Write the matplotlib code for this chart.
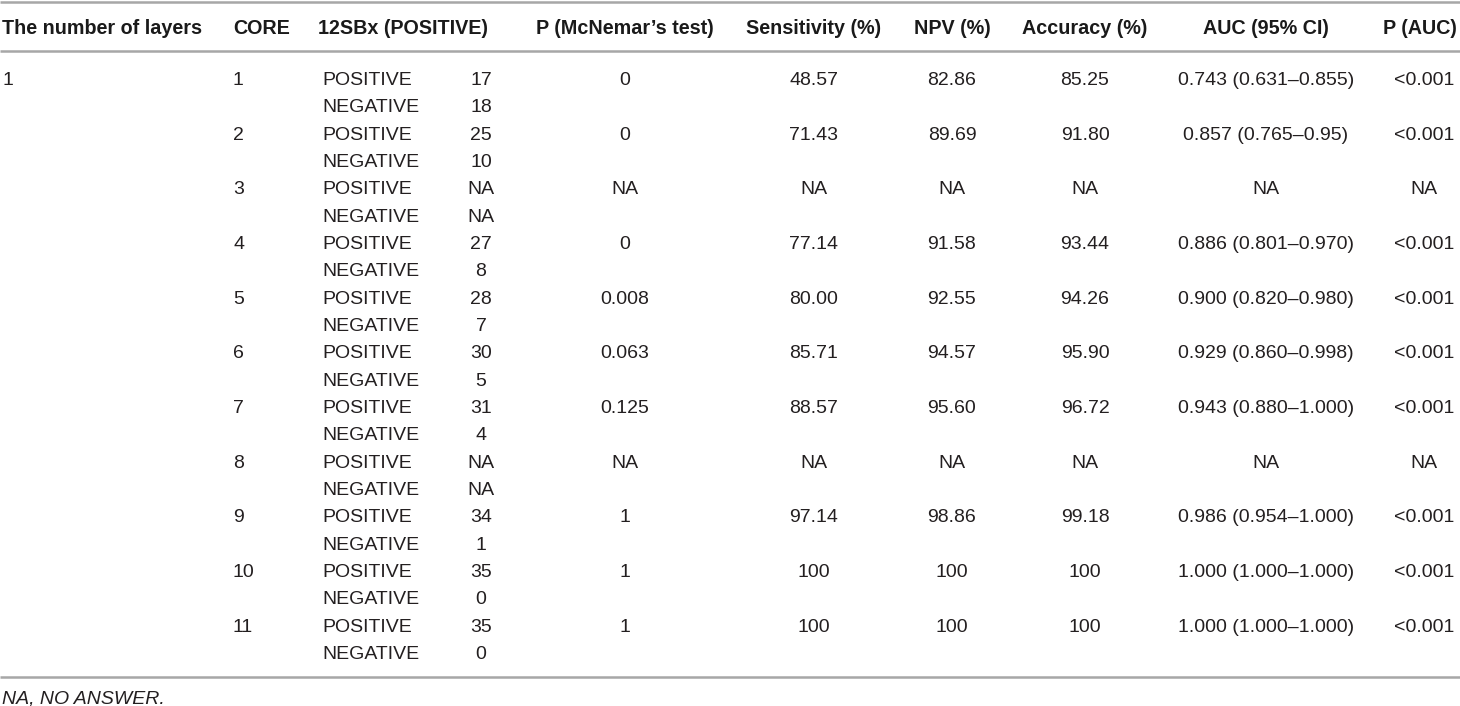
import matplotlib
matplotlib.use("Agg")
import matplotlib.pyplot as plt

# ---------------- data ----------------
headers = ["The number of layers", "CORE", "12SBx (POSITIVE)", "P (McNemar\u2019s test)",
           "Sensitivity (%)", "NPV (%)", "Accuracy (%)", "AUC (95% CI)", "P (AUC)"]
layers = ["1"]
cores = ["1", "2", "3", "4", "5", "6", "7", "8", "9", "10", "11"]
result_labels = ["POSITIVE", "NEGATIVE"]
pos_counts = ["17", "25", "NA", "27", "28", "30", "31", "NA", "34", "35", "35"]
neg_counts = ["18", "10", "NA", "8", "7", "5", "4", "NA", "1", "0", "0"]
p_mcnemar = ["0", "0", "NA", "0", "0.008", "0.063", "0.125", "NA", "1", "1", "1"]
sensitivity = ["48.57", "71.43", "NA", "77.14", "80.00", "85.71", "88.57", "NA", "97.14", "100", "100"]
npv = ["82.86", "89.69", "NA", "91.58", "92.55", "94.57", "95.60", "NA", "98.86", "100", "100"]
accuracy = ["85.25", "91.80", "NA", "93.44", "94.26", "95.90", "96.72", "NA", "99.18", "100", "100"]
auc_ci = ["0.743 (0.631\u20130.855)", "0.857 (0.765\u20130.95)", "NA", "0.886 (0.801\u20130.970)",
          "0.900 (0.820\u20130.980)", "0.929 (0.860\u20130.998)", "0.943 (0.880\u20131.000)", "NA",
          "0.986 (0.954\u20131.000)", "1.000 (1.000\u20131.000)", "1.000 (1.000\u20131.000)"]
p_auc = ["<0.001", "<0.001", "NA", "<0.001", "<0.001", "<0.001", "<0.001", "NA",
         "<0.001", "<0.001", "<0.001"]
footnote = "NA, NO ANSWER."

# ---------------- layout ----------------
W, H = 1460, 706
fig = plt.figure(figsize=(W / 100, H / 100), dpi=100)
ax = fig.add_axes([0, 0, 1, 1])
ax.set_xlim(0, W)
ax.set_ylim(H, 0)
ax.axis("off")

FONT = "Liberation Sans"
FS = 14.0
FSH = 14.2
TXT = "#231f20"
RULE = "#a7a7a7"
LW = 1.8

# column anchors (x, ha)
hdr_pos = [(2, "left"), (233, "left"), (318, "left"), (625, "center"), (814, "center"),
           (952, "center"), (1085, "center"), (1266, "center"), (1420, "center")]
hdr_y = 28.5
row0_y = 80.5
row_step = (654.5 - 80.5) / 21.0

# rules
for yy in (1.5, 51, 677):
    ax.plot([0, W], [yy, yy], color=RULE, lw=LW, solid_capstyle="butt")

for (x, ha), h in zip(hdr_pos, headers):
    ax.text(x, hdr_y, h, ha=ha, va="center", fontsize=FSH, fontweight="bold",
            family=FONT, color="#1a1a1a")

def put(x, y, s, ha):
    ax.text(x, y, s, ha=ha, va="center", fontsize=FS, family=FONT, color=TXT)

put(2, row0_y, layers[0], "left")
for i, c in enumerate(cores):
    y_pos = row0_y + (2 * i) * row_step
    y_neg = row0_y + (2 * i + 1) * row_step
    put(233, y_pos, c, "left")
    put(322, y_pos, result_labels[0], "left")
    put(322, y_neg, result_labels[1], "left")
    put(481, y_pos, pos_counts[i], "center")
    put(481, y_neg, neg_counts[i], "center")
    put(625, y_pos, p_mcnemar[i], "center")
    put(814, y_pos, sensitivity[i], "center")
    put(952, y_pos, npv[i], "center")
    put(1085, y_pos, accuracy[i], "center")
    put(1266, y_pos, auc_ci[i], "center")
    put(1424, y_pos, p_auc[i], "center")

ax.text(2, 698.5, footnote, ha="left", va="center", fontsize=FS, family=FONT,
        style="italic", color=TXT)

fig.savefig("out.png", dpi=100)
